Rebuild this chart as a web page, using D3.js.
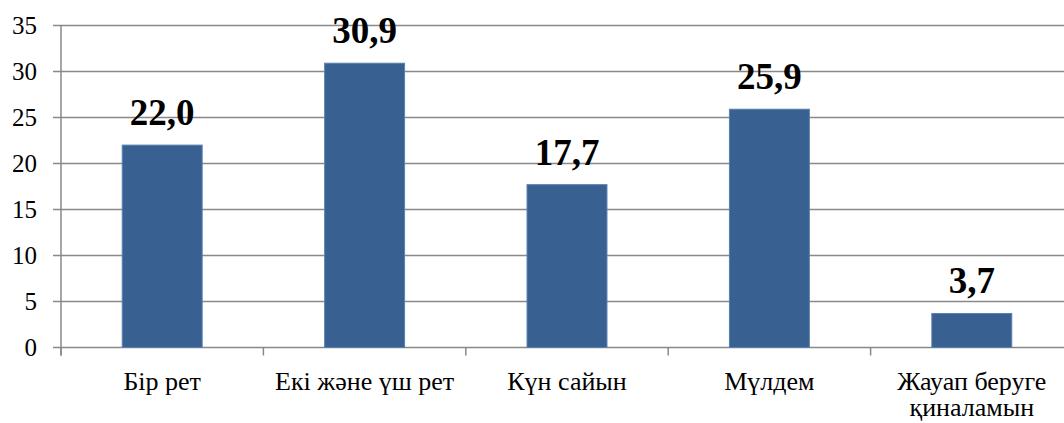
<!DOCTYPE html>
<html>
<head>
<meta charset="utf-8">
<script src="https://cdn.jsdelivr.net/npm/d3@7"></script>
<style>
  body { margin: 0; background: #fff; }
  text { font-family: "Liberation Serif", "Times New Roman", serif; }
</style>
</head>
<body>
<div class="main"></div>
<script>
var categories = ['Бір рет', 'Екі және үш рет', 'Күн сайын', 'Мүлдем', 'Жауап беруге|қиналамын'];
var values = [22.0, 30.9, 17.7, 25.9, 3.7];
var yTicks = [0, 5, 10, 15, 20, 25, 30, 35];

var width = 1064, height = 423;
var plotLeft = 61, plotTop = 25.5, plotBottom = 347.5;
var bandW = 202.4;

var svg = d3.select('.main')
    .append('svg')
    .attr('width', width)
    .attr('height', height);

var x = d3.scaleBand()
    .domain(categories)
    .range([plotLeft, plotLeft + bandW * categories.length])
    .paddingInner(0.605)
    .paddingOuter(0.3025);

var y = d3.scaleLinear().domain([0, 35]).range([plotBottom, plotTop]);

// gridlines
svg.append('g')
    .selectAll('.grid')
    .data(yTicks)
    .enter()
    .append('line')
    .attr('class', 'grid')
    .attr('x1', plotLeft - 8)
    .attr('x2', width)
    .attr('y1', function (d) { return y(d); })
    .attr('y2', function (d) { return y(d); })
    .style('stroke', '#898989')
    .style('stroke-width', '1.5px');

// y axis line
svg.append('line')
    .attr('x1', plotLeft).attr('x2', plotLeft)
    .attr('y1', plotTop).attr('y2', plotBottom + 8)
    .style('stroke', '#898989')
    .style('stroke-width', '1.5px');

// x ticks at category boundaries
var boundaries = d3.range(categories.length + 1).map(function (i) { return plotLeft + i * bandW; });
svg.append('g')
    .selectAll('.xtick')
    .data(boundaries.filter(function (d) { return d < width; }))
    .enter()
    .append('line')
    .attr('x1', function (d) { return d; })
    .attr('x2', function (d) { return d; })
    .attr('y1', plotBottom)
    .attr('y2', plotBottom + 8)
    .style('stroke', '#898989')
    .style('stroke-width', '1.5px');

// y tick labels
svg.append('g')
    .selectAll('.ylab')
    .data(yTicks)
    .enter()
    .append('text')
    .attr('x', 37)
    .attr('y', function (d) { return y(d) + 8; })
    .attr('text-anchor', 'end')
    .style('font-size', '25px')
    .style('fill', '#000')
    .text(function (d) { return d; });

// bars
svg.append('g')
    .selectAll('.bar')
    .data(values)
    .enter()
    .append('rect')
    .attr('class', 'bar')
    .attr('x', function (d, i) { return x(categories[i]); })
    .attr('y', function (d) { return y(d); })
    .attr('width', x.bandwidth())
    .attr('height', function (d) { return plotBottom - y(d); })
    .style('fill', '#386090')
    .style('stroke', '#5a80b0')
    .style('stroke-width', '1px');

// value labels
svg.append('g')
    .selectAll('.value')
    .data(values)
    .enter()
    .append('text')
    .attr('class', 'value')
    .attr('x', function (d, i) { return x(categories[i]) + x.bandwidth() / 2; })
    .attr('y', function (d) { return y(d) - 20; })
    .attr('text-anchor', 'middle')
    .style('font-size', '37px')
    .style('font-weight', 'bold')
    .text(function (d) { return d.toFixed(1).replace('.', ','); });

// category labels
var cat = svg.append('g')
    .selectAll('.cat')
    .data(categories)
    .enter()
    .append('text')
    .attr('class', 'cat')
    .attr('text-anchor', 'middle')
    .style('font-size', '26px')
    .attr('transform', function (d) {
        return 'translate(' + [x(d) + x.bandwidth() / 2, 390] + ')';
    });

cat.selectAll('tspan')
    .data(function (d) { return d.split('|'); })
    .enter()
    .append('tspan')
    .attr('x', 0)
    .attr('y', function (d, i) { return i * 26; })
    .text(function (d) { return d; });
</script>
</body>
</html>
